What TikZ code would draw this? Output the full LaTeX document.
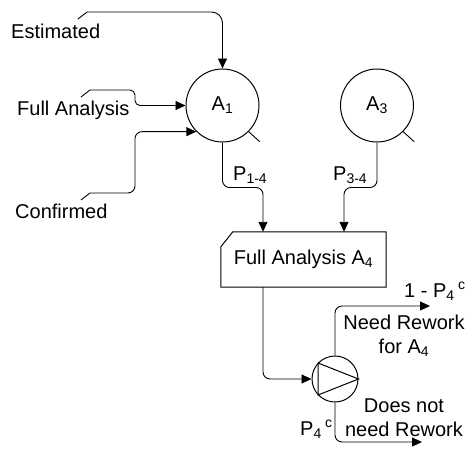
\documentclass[tikz,border=0pt]{standalone}
\usepackage{fontspec}
\setmainfont{Liberation Sans}
\usetikzlibrary{arrows.meta}

\tikzset{
  flow/.style={line width=0.9pt, rounded corners=7pt, -{Triangle[length=10pt,width=9pt]}},
  activity/.style={draw, circle, line width=1pt, minimum size=73pt, inner sep=0pt},
  decision/.style={draw, circle, line width=1pt, minimum size=46pt, inner sep=0pt},
  tail/.style={line width=0.9pt},
}

\begin{document}
\begin{tikzpicture}[x=1pt,y=-1pt,font=\fontsize{20}{24}\selectfont]
\useasboundingbox (0,0) rectangle (465,452);
% activities
\node[activity] (A1) at (222.5,105.5) {A\textsubscript{1}};
\node[activity] (A3) at (377,105.5) {A\textsubscript{3}};
\draw[tail] (A1.-45) -- ++(11,10);
\draw[tail] (A3.-45) -- ++(11,10);

% full analysis box
\node[minimum width=165pt, minimum height=55pt, inner sep=0pt] (A4) at (303.5,259.5) {Full Analysis A\textsubscript{4}};
\draw[line width=1pt] (A4.south west) -- ([yshift=-15pt]A4.north west)
  -- ([xshift=12pt]A4.north west) -- (A4.north east) -- (A4.south east) -- cycle;
\coordinate (in14) at ([xshift=-40.5pt]A4.north);
\coordinate (in34) at ([xshift=40.5pt]A4.north);
\coordinate (out4) at ([xshift=-40.5pt]A4.south);

% decision
\node[decision] (D4) at (335,379) {};
\draw[line width=1pt] ([xshift=-17pt,yshift=16pt]D4.center)
  -- ([xshift=-17pt,yshift=-16pt]D4.center) -- (D4.east) -- cycle;
\coordinate (yes4) at (430,306);
\coordinate (no4) at (422,442);

% inputs
\coordinate (est) at (87,12);
\coordinate (full) at (90,90);
\coordinate (conf) at (90,193);
\draw[tail] (est) -- ++(-9,7);
\draw[tail] (full) -- ++(-9,7);
\draw[tail] (conf) -- ++(-9,7);
\draw[flow, rounded corners=11pt] (est) -| (A1);
\draw[flow, rounded corners=5pt] (full) -- ++(45,0) |- (A1.west);
\draw[flow] (conf) -- ++(45,0) |- (A1.-135);

% flows
\draw[flow] (A1.south) -- ++(0,45) -| (in14);
\draw[flow] (A3.south) -- ++(0,45) -| (in34);
\draw[flow] (out4) |- (D4.west);
\draw[flow] (D4.north) |- (yes4);
\draw[flow] (D4.south) |- (no4);

% labels
\node[anchor=base west, inner sep=0pt] (estl) at (11,39) {Estimated};
\node[anchor=base west, inner sep=0pt] (fulll) at (17,115) {Full Analysis};
\node[anchor=base west, inner sep=0pt] (confl) at (15,218) {Confirmed};
\node[anchor=base west, inner sep=0pt] (p14) at (233,180) {P\textsubscript{1-4}};
\node[anchor=base west, inner sep=0pt] (p34) at (333,180) {P\textsubscript{3-4}};
\node[anchor=base west, inner sep=0pt] (yesp) at (404,297) {1 - P\textsubscript{4}\,\textsuperscript{c}};
\node[align=center, inner sep=0pt] (yesl) at (404,336) {Need Rework\\for A\textsubscript{4}};
\node[align=center, inner sep=0pt] (nol) at (404,418) {Does not\\need Rework};
\node[anchor=base west, inner sep=0pt] (nop) at (300,435) {P\textsubscript{4}\,\textsuperscript{c}};
\end{tikzpicture}
\end{document}
